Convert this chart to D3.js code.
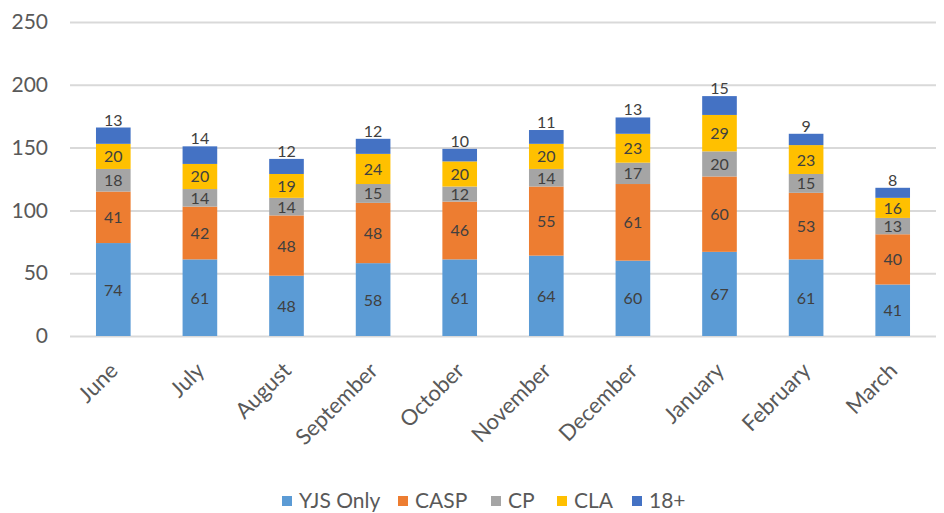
<!DOCTYPE html>
<html>
<head>
<meta charset="utf-8">
<script src="https://cdn.jsdelivr.net/npm/d3@7"></script>
<style>
  body { margin: 0; background: #fff; }
  text { font-family: Lato, "Open Sans", sans-serif; }
</style>
</head>
<body>
<svg id="chart" width="944" height="513"></svg>
<script>
var months = ["June", "July", "August", "September", "October", "November", "December", "January", "February", "March"];
var seriesNames = ["YJS Only", "CASP", "CP", "CLA", "18+"];
var yjsOnly = [74, 61, 48, 58, 61, 64, 60, 67, 61, 41];
var casp = [41, 42, 48, 48, 46, 55, 61, 60, 53, 40];
var cp = [18, 14, 14, 15, 12, 14, 17, 20, 15, 13];
var cla = [20, 20, 19, 24, 20, 20, 23, 29, 23, 16];
var over18 = [13, 14, 12, 12, 10, 11, 13, 15, 9, 8];
var yTicks = [0, 50, 100, 150, 200, 250];
var colors = ["#5b9bd5", "#ed7d31", "#a5a5a5", "#ffc000", "#4472c4"];

var svg = d3.select("#chart");

// build rows for the stack layout
var rows = months.map(function(m, i){
    return {month: m, "YJS Only": yjsOnly[i], "CASP": casp[i], "CP": cp[i], "CLA": cla[i], "18+": over18[i]};
});
var stacked = d3.stack().keys(seriesNames)(rows);

var x = d3.scaleBand()
        .domain(months)
        .range([70, 936])
        .paddingInner(0.6)
        .paddingOuter(0.3);

var y = d3.scaleLinear()
        .domain([0, 250])
        .range([336, 22]);

// gridlines + y labels
var yAxis = svg.append("g")
        .attr("transform", "translate(70,0)")
        .call(d3.axisLeft(y).tickValues(yTicks).tickSize(-866).tickPadding(22));
yAxis.select(".domain").remove();
yAxis.selectAll(".tick line")
        .attr("stroke", "#d9d9d9")
        .attr("stroke-width", 2);
yAxis.selectAll(".tick text")
        .attr("fill", "#595959")
        .style("font-size", "21px");

// bars
var layers = svg.append("g").selectAll("g")
        .data(stacked)
        .enter().append("g")
        .attr("fill", function(d, i){ return colors[i]; });

layers.selectAll("rect")
        .data(function(d){ return d; })
        .enter().append("rect")
        .attr("x", function(d){ return x(d.data.month); })
        .attr("y", function(d){ return y(d[1]); })
        .attr("width", x.bandwidth())
        .attr("height", function(d){ return y(d[0]) - y(d[1]); });

// data labels
layers.each(function(layer, li){
    d3.select(this).selectAll("text")
        .data(layer)
        .enter().append("text")
        .attr("x", function(d){ return x(d.data.month) + x.bandwidth() / 2; })
        .attr("y", function(d){
            if (li === seriesNames.length - 1) return y(d[1]) - 2;
            return (y(d[0]) + y(d[1])) / 2 + 6;
        })
        .attr("text-anchor", "middle")
        .attr("fill", "#404040")
        .style("font-size", "16px")
        .text(function(d){ return d[1] - d[0]; });
});

// x labels
var xAxis = svg.append("g")
        .attr("transform", "translate(0,336)")
        .call(d3.axisBottom(x).tickSize(0).tickPadding(0));
xAxis.select(".domain").remove();
xAxis.selectAll(".tick text")
        .attr("fill", "#595959")
        .style("font-size", "22px")
        .attr("text-anchor", "end")
        .attr("dy", 0)
        .attr("transform", "translate(6,36) rotate(-45)");

// legend
var legendX = [282, 398, 491, 557, 632];
var legend = svg.append("g").selectAll("g")
        .data(seriesNames)
        .enter().append("g")
        .attr("transform", function(d, i){ return "translate(" + legendX[i] + ",496)"; });
legend.append("rect")
        .attr("width", 10)
        .attr("height", 10)
        .attr("fill", function(d, i){ return colors[i]; });
legend.append("text")
        .attr("x", 17)
        .attr("y", 12)
        .attr("fill", "#595959")
        .style("font-size", "21px")
        .text(function(d){ return d; });
</script>
</body>
</html>
